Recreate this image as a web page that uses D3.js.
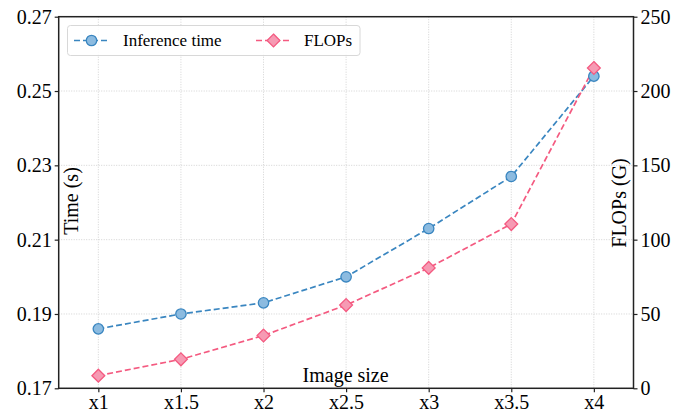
<!DOCTYPE html>
<meta charset="utf-8">
<style>
body { margin: 0; background: #fff; }
text { font-family: "Liberation Serif", "Times New Roman", serif; fill: #000; }
</style>
<svg width="689" height="413"></svg>
<script src="https://d3js.org/d3.v7.min.js"></script>
<script>
	var sizes = ["x1", "x1.5", "x2", "x2.5", "x3", "x3.5", "x4"];
	var inferenceTime = [0.186, 0.190, 0.193, 0.200, 0.213, 0.227, 0.254];
	var flops = [8.5, 19.5, 35.5, 56, 81, 110.5, 215.5];
	var timeTicks = [0.17, 0.19, 0.21, 0.23, 0.25, 0.27];
	var flopsTicks = [0, 50, 100, 150, 200, 250];

	var svg = d3.select("svg");
	var plotLeft = 58.7, plotRight = 633.5, plotTop = 16.7, plotBottom = 388.3;
	var blue = "#3a86c0", blueFill = "#8cbbe0";
	var pink = "#f45a80", pinkFill = "#f69ab3";

	var x = d3.scaleLinear().domain([-0.48, 6.48]).range([plotLeft, plotRight]);
	var yL = d3.scaleLinear().domain([0.17, 0.27]).range([plotBottom, plotTop]);
	var yR = d3.scaleLinear().domain([0, 250]).range([plotBottom, plotTop]);

	// grid
	var grid = svg.append("g")
		.attr("stroke", "#c8c8c8")
		.attr("stroke-width", 0.8)
		.attr("stroke-dasharray", "1,1.5");
	grid.selectAll(".gx").data(sizes).enter().append("line")
		.attr("x1", function(d, i) { return x(i); })
		.attr("x2", function(d, i) { return x(i); })
		.attr("y1", plotTop).attr("y2", plotBottom);
	grid.selectAll(".gy").data(timeTicks).enter().append("line")
		.attr("x1", plotLeft).attr("x2", plotRight)
		.attr("y1", function(d) { return yL(d); })
		.attr("y2", function(d) { return yL(d); });

	// lines
	var timeLine = d3.line()
		.x(function(d, i) { return x(i); })
		.y(function(d) { return yL(d); });
	var flopsLine = d3.line()
		.x(function(d, i) { return x(i); })
		.y(function(d) { return yR(d); });

	svg.append("path").datum(inferenceTime)
		.attr("d", timeLine)
		.attr("fill", "none")
		.attr("stroke", blue)
		.attr("stroke-width", 1.7)
		.attr("stroke-dasharray", "6,3");
	svg.append("path").datum(flops)
		.attr("d", flopsLine)
		.attr("fill", "none")
		.attr("stroke", pink)
		.attr("stroke-width", 1.7)
		.attr("stroke-dasharray", "6,3");

	svg.selectAll(".tm").data(inferenceTime).enter().append("circle")
		.attr("cx", function(d, i) { return x(i); })
		.attr("cy", function(d) { return yL(d); })
		.attr("r", 5.2)
		.attr("fill", blueFill)
		.attr("stroke", blue)
		.attr("stroke-width", 1.3);

	var diamond = d3.symbol().type(d3.symbolDiamond2).size(105);
	svg.selectAll(".fm").data(flops).enter().append("path")
		.attr("d", diamond)
		.attr("transform", function(d, i) { return "translate(" + x(i) + "," + yR(d) + ")"; })
		.attr("fill", pinkFill)
		.attr("stroke", pink)
		.attr("stroke-width", 1.3);

	// axes
	var fontSize = "20px";
	var xAxis = svg.append("g")
		.attr("transform", "translate(0," + plotBottom + ")")
		.call(d3.axisBottom(x).tickValues(d3.range(sizes.length))
			.tickFormat(function(i) { return sizes[i]; })
			.tickSize(4).tickPadding(3));
	var lAxis = svg.append("g")
		.attr("transform", "translate(" + plotLeft + ",0)")
		.call(d3.axisLeft(yL).tickValues(timeTicks).tickFormat(d3.format(".2f"))
			.tickSize(4).tickPadding(3));
	var rAxis = svg.append("g")
		.attr("transform", "translate(" + plotRight + ",0)")
		.call(d3.axisRight(yR).tickValues(flopsTicks).tickSize(4).tickPadding(3));

	[xAxis, lAxis, rAxis].forEach(function(a) {
		a.select(".domain").remove();
		a.selectAll("text")
			.style("font-family", "Liberation Serif, serif")
			.style("font-size", fontSize)
			.attr("fill", "#000");
		a.selectAll(".tick line").attr("stroke", "#222").attr("stroke-width", 1.2);
	});

	// frame
	svg.append("rect")
		.attr("x", plotLeft).attr("y", plotTop)
		.attr("width", plotRight - plotLeft).attr("height", plotBottom - plotTop)
		.attr("fill", "none")
		.attr("stroke", "#222")
		.attr("stroke-width", 1.5);

	// labels
	svg.append("text")
		.attr("x", (plotLeft + plotRight) / 2 - 0.5).attr("y", 382)
		.attr("text-anchor", "middle")
		.style("font-size", fontSize)
		.text("Image size");
	svg.append("text")
		.attr("transform", "translate(78,201) rotate(-90)")
		.attr("text-anchor", "middle")
		.style("font-size", fontSize)
		.text("Time (s)");
	svg.append("text")
		.attr("transform", "translate(626,203) rotate(-90)")
		.attr("text-anchor", "middle")
		.style("font-size", fontSize)
		.text("FLOPs (G)");

	// legend
	var legend = svg.append("g");
	legend.append("rect")
		.attr("x", 67.5).attr("y", 25.5)
		.attr("width", 292.5).attr("height", 30)
		.attr("rx", 3)
		.attr("fill", "#fff")
		.attr("fill-opacity", 0.85)
		.attr("stroke", "#d8d8d8")
		.attr("stroke-width", 1);
	var items = [
		{ label: "Inference time", color: blue, fill: blueFill, x0: 74, tx: 123, shape: "circle" },
		{ label: "FLOPs", color: pink, fill: pinkFill, x0: 256, tx: 304, shape: "diamond" }
	];
	items.forEach(function(it) {
		var ly = 40.5;
		legend.append("line")
			.attr("x1", it.x0).attr("x2", it.x0 + 35)
			.attr("y1", ly).attr("y2", ly)
			.attr("stroke", it.color)
			.attr("stroke-width", 1.7)
			.attr("stroke-dasharray", "6,3");
		if (it.shape === "circle") {
			legend.append("circle")
				.attr("cx", it.x0 + 17.5).attr("cy", ly).attr("r", 5.2)
				.attr("fill", it.fill).attr("stroke", it.color).attr("stroke-width", 1.3);
		} else {
			legend.append("path")
				.attr("d", diamond)
				.attr("transform", "translate(" + (it.x0 + 17.5) + "," + ly + ")")
				.attr("fill", it.fill).attr("stroke", it.color).attr("stroke-width", 1.3);
		}
		legend.append("text")
			.attr("x", it.tx).attr("y", ly + 5.5)
			.style("font-size", "17px")
			.text(it.label);
	});
</script>
